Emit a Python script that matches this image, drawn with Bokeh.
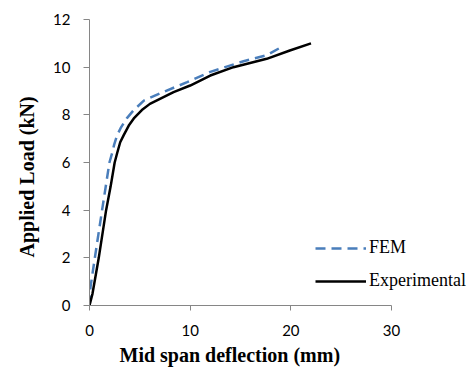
from bokeh.plotting import figure
from bokeh.models import Legend, LegendItem, Range1d, FixedTicker, Title
from bokeh.embed import file_html
from bokeh.resources import INLINE

# FEM (dashed blue) - mid span deflection (mm) vs applied load (kN)
fem_x = [0, 0.1, 0.53, 1.25, 1.98, 2.25, 2.45, 2.75, 3.1, 3.7, 4.4, 5.4, 7.4, 9.7, 12.0, 15.3, 17.6, 19.3]
fem_y = [0, 0.77, 2.0, 4.0, 6.0, 6.4, 6.75, 7.15, 7.45, 7.85, 8.2, 8.6, 8.97, 9.37, 9.8, 10.25, 10.5, 10.9]

# Experimental (solid black)
exp_x = [0, 0.3, 0.92, 1.65, 2.1, 2.5, 2.75, 3.05, 3.4, 3.9, 4.4, 5.2, 6.0, 8.35, 10.0, 12.0, 14.3, 17.6, 19.9, 22.0]
exp_y = [0, 0.5, 2.0, 4.0, 5.0, 6.0, 6.4, 6.85, 7.15, 7.55, 7.85, 8.2, 8.46, 8.95, 9.23, 9.65, 10.0, 10.35, 10.7, 11.0]

x_ticks = [0, 10, 20, 30]
y_ticks = [0, 2, 4, 6, 8, 10, 12]

x_title = "Mid span deflection (mm)"
y_title = "Applied Load (kN)"

# frame spans the full right side so the legend is not clipped;
# the visible x axis stops at 30
x_axis_end = 30
x_view_end = 38.34

p = figure(width=475, height=372, output_backend="svg", toolbar_location=None,
           x_range=Range1d(0, x_view_end), y_range=Range1d(0, 12),
           min_border_left=89, min_border_right=0, min_border_top=19,
           min_border_bottom=67)
p.outline_line_color = None
p.xgrid.grid_line_color = None
p.ygrid.grid_line_color = None
p.background_fill_color = "white"

axis_color = "#868686"
for ax in (p.xaxis[0], p.yaxis[0]):
    ax.axis_line_color = axis_color
    ax.major_tick_line_color = axis_color
    ax.minor_tick_line_color = None
    ax.major_tick_in = 0
    ax.major_tick_out = 6
    ax.major_label_text_font = "Lato"
    ax.major_label_text_font_size = "15px"
    ax.major_label_text_color = "#000000"

p.xaxis[0].ticker = FixedTicker(ticks=x_ticks)
p.xaxis[0].bounds = (0, x_axis_end)
p.yaxis[0].ticker = FixedTicker(ticks=y_ticks)
p.xaxis[0].major_tick_out = 5
p.xaxis[0].major_label_standoff = 14
p.yaxis[0].major_label_standoff = 13

# axis titles as Titles so they can be placed along the axis (not the frame)
xt = Title(text=x_title, align="left", offset=30, standoff=7,
           text_line_height=0.5,
           text_font="Liberation Serif", text_font_style="bold",
           text_font_size="20px", text_color="#000000")
yt = Title(text=y_title, align="left", offset=48, standoff=26,
           text_font="Liberation Serif", text_font_style="bold",
           text_font_size="20px", text_color="#000000")
p.add_layout(xt, "below")
p.add_layout(yt, "left")

r_fem = p.line(fem_x, fem_y, line_color="#4A7EBB", line_width=2.5, line_dash="10 6")
r_exp = p.line(exp_x, exp_y, line_color="#000000", line_width=2.5)

legend = Legend(items=[LegendItem(label="FEM", renderers=[r_fem]),
                       LegendItem(label="Experimental", renderers=[r_exp])],
                location=(226, 14), glyph_width=51, glyph_height=20,
                label_height=20, spacing=12, padding=0, margin=0,
                label_standoff=3, border_line_color=None,
                background_fill_alpha=0,
                label_text_font="'Liberation Serif', 'Times New Roman', serif",
                label_text_font_size="18px",
                label_text_color="#000000")
p.add_layout(legend)

open("out.html", "w").write(file_html(p, INLINE))
